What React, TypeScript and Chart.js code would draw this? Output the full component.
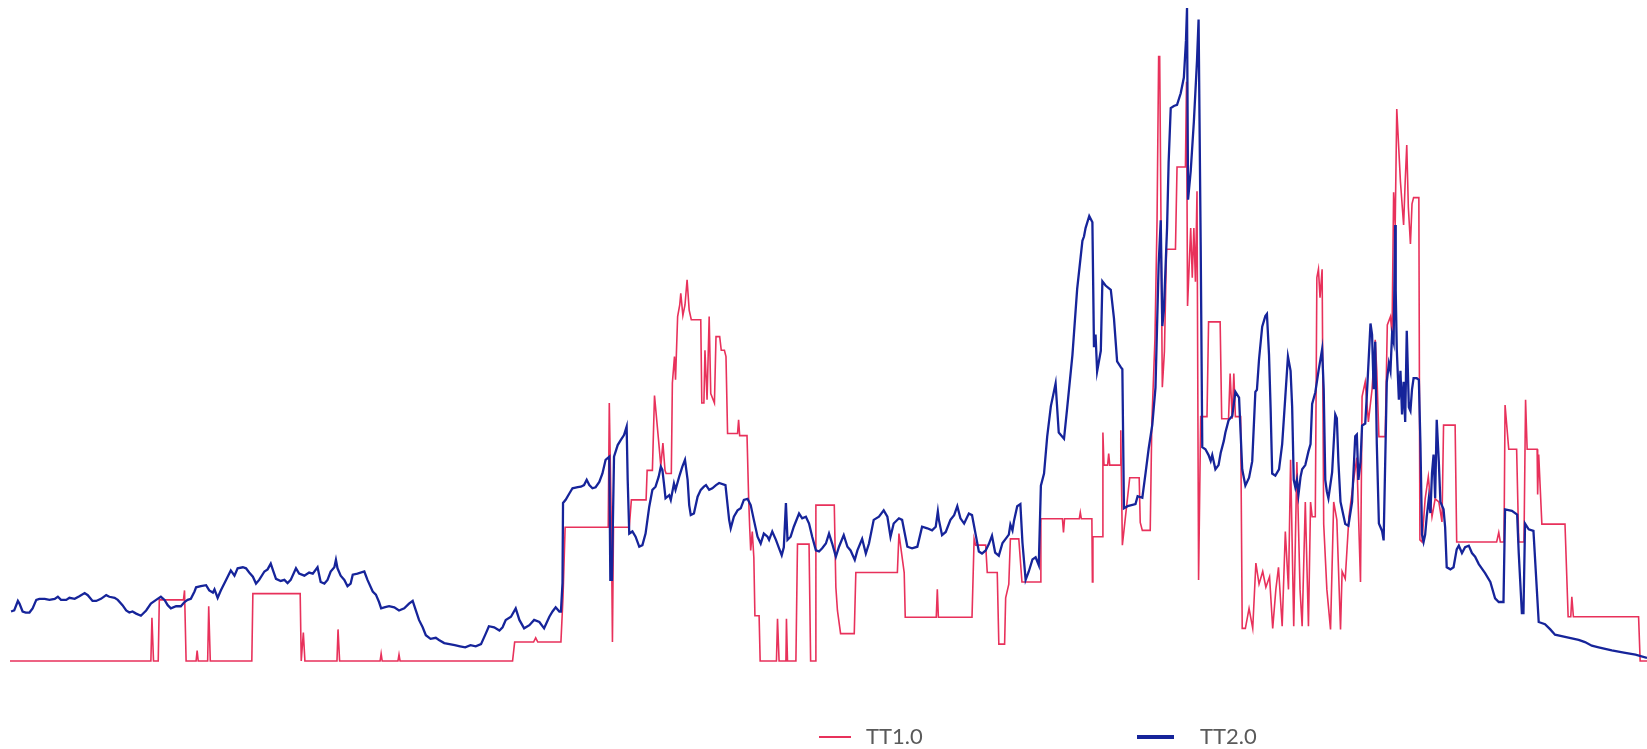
import React, { useEffect, useRef } from 'react';
import { Chart, registerables } from 'chart.js';

Chart.register(...registerables);

const seriesNames = ['TT1.0', 'TT2.0'];
const seriesColors = ['#e8315b', '#16249a'];
const timeRange = [0, 1557];
const valueRange = [0, 620];

// TT1.0 samples: [time, value]
const tt1Samples: [number, number][] = [
  [0,0],[134,0],[135,41],[136.5,0],[141,0],[142,58],[165,58],[166,67],[167.5,0],[177,0],[178,10],[179,0],
  [188,0],[189,52],[190.5,0],[230,0],[231,64],[276,64],[277,0],[279,27],[280.5,0],[311,0],[312,30],[313.5,0],
  [352,0],[353,7],[354,0],[369,0],[370,6],[371,0],[478,0],[480,18],[498,18],[500,22],[502,18],[524,18],
  [526,61],[528,127],[569,127],[570,245],[572,127],[573,18],[574,127],[589,127],[591,153],[605,153],[606,181],
  [611,181],[613,252],[617,208],[619,185],[621,207],[623,181],[624,178],[629,178],[630,264],[632,289],[633,267],
  [635,327],[637,338],[638,349],[640,328],[642,338],[644,362],[646,333],[648,324],[657,324],[658,245],[660,245],
  [661,295],[663,248],[665,327],[666.5,254],[670,245],[671.5,308],[675,308],[676.5,295],[679.5,295],[681,289],
  [682.5,216],[692,216],[693,229],[694,214],[701,214],[702.5,156],[703.5,128],[704.5,105],[706,123],[707.5,98],
  [708.5,43],[712.5,43],[713.5,0],[729,0],[730,40],[731.5,0],[738,0],[738.5,40],[739.5,0],[747.5,0],[749,111],
  [760,111],[761.5,0],[766,0],[766.5,148],[784,148],[785.5,70],[787,48],[790,26],[803,26],[804.5,84],[844,84],
  [845.5,121],[850.5,84],[851.5,41.5],[881,41.5],[882,68],[883,41.5],[915,41.5],[917,116],[918.5,110],[928,110],
  [929.5,84],[939,84],[940.5,16],[946,16],[947,60],[950,73],[951.5,116],[959.5,116],[962.5,75],[980,75],
  [980.5,135],[1001,135],[1002,122],[1003,135],[1017,135],[1018,141],[1019,135],[1029,135],[1029.5,75],
  [1030,118],[1039,118],[1039.5,217],[1040.5,186],[1044,186],[1045,197],[1046,186],[1056,186],[1056.5,219],
  [1058,110],[1065,174],[1074,174],[1075,131.5],[1077,124],[1084.5,124],[1086,225],[1089,306],[1091,419],
  [1092.5,574],[1093.5,574],[1096,260],[1098,294],[1100,391],[1108.5,391],[1110,469],[1118,469],[1119,550],
  [1120,337],[1123,411],[1124.5,364],[1126,411],[1127.5,360],[1129,446],[1130.5,77],[1132.5,232],[1138.5,232],
  [1140,322],[1151,322],[1152.5,230],[1159,230],[1160.5,273],[1162.5,230],[1164,273],[1165.5,232],[1170.5,232],
  [1172,31],[1175,31],[1178.5,50],[1182,31],[1185,93],[1188,73],[1191.5,85],[1194.5,70],[1198,80],[1201,31],
  [1204,68],[1206.5,89],[1210,33],[1213,123],[1216,68],[1218,191],[1221,33],[1224,189],[1227,68],[1229,33],
  [1232,151],[1235,33],[1237,151],[1238.5,137],[1241.5,137],[1243,364],[1244.5,372],[1246,345],[1248,372],
  [1249.5,130],[1252.5,68],[1256,30],[1259,151],[1262,134],[1265.5,30],[1267,85],[1270,78],[1273.5,137],
  [1278,172],[1281,193],[1284.5,75],[1286,251],[1289,265],[1292,227],[1295.5,258],[1298.5,305],[1300,275],
  [1302,213],[1308,213],[1310,319],[1313,327],[1314.5,310],[1316,445],[1317.5,414],[1319,524],[1322.5,455],
  [1325.5,414],[1327,455],[1328.5,490],[1330,431],[1332,396],[1333.5,434],[1335,440],[1340,440],[1341,115],
  [1343,113],[1346,154],[1349,175],[1352.5,137],[1355.5,154],[1359,151],[1362,132],[1363.5,224],[1374.5,224],
  [1376,113],[1414,113],[1416,122],[1417.5,113],[1421,113],[1422,243],[1425.5,201],[1433,201],[1435,113],
  [1440,113],[1441.5,248],[1443,201],[1452.5,201],[1453,158],[1454,196],[1457,130],[1479,130],[1482,42],
  [1484.5,42],[1485.5,61],[1487,42],[1549,42],[1550.5,0],[1557,0]
];

// TT2.0 samples: [time, value]
const tt2Samples: [number, number][] = [
  [1,47],[4,48],[7.5,57],[9,54.5],[12,47],[15,46],[18.5,46],[21.5,50],[25,58],[28,59],[33,59],[37.5,58],
  [42.5,59],[45.5,61],[48.5,58],[53.5,58],[56.5,60],[61.5,59],[66,61.5],[71,64.5],[74,62.5],[78.5,57],[82,57],
  [86.5,59],[91.5,62.5],[94.5,61],[99.5,60],[102.5,58],[107,53],[110.5,48],[113.5,46],[116.5,47],[120,45],
  [124.5,43],[129.5,48],[134,54.5],[139,58],[143.5,61],[147,58],[150,53],[153,50],[158,52],[162.5,52],[166,56],
  [169,58],[172,59],[175.5,66],[177,70],[181.5,71],[186.5,72],[189.5,67],[193,65],[194.5,68],[197.5,60],
  [200.5,67],[205.5,77],[210,86],[213.5,81],[216.5,88],[221.5,89],[224.5,88],[227.5,84],[231,80],[234,73.5],
  [237,77],[242,85],[245,87],[248,92.5],[250.5,85],[253,78],[257.5,76],[261,77],[264,74],[267,77],[272,88],
  [275,83],[280,81],[284.5,84],[288,83],[292.5,89],[295.5,75],[299,73.5],[302,77],[305,85],[308.5,89],[310,96],
  [311.5,88],[314.5,81],[318,77],[321,71],[324,73.5],[326,82],[330.5,83],[337,85],[340,77],[345,66],[348,63],
  [351,56],[353,50],[356,51],[360.5,52],[365.5,51],[370,48],[375,50],[379.5,54.5],[383,57],[386,48],[389,39],
  [392.5,32],[395.5,24.5],[400,21],[405,22],[408,20],[413,17],[418,16],[423,15],[428,14],[433,13],[438,15],
  [443,14],[448,16],[452.5,26],[455.5,33],[460.5,32],[465.5,29],[468.5,32],[471.5,39],[476.5,42],[481,50],
  [484.5,39],[489,31],[494,34],[498.5,39],[503.5,37],[508,31],[513,42],[516,47],[519,51],[522.5,47],[524,47],
  [525.5,74],[526,150],[528.5,153],[532,159],[535,164],[540,165],[543,165.5],[546,167],[548.5,172],[551,167],
  [554,164],[557,165],[560.5,170],[563.5,178],[566.5,191],[570,194],[571,77],[572.5,77],[574.5,194],[578,205],
  [581,210],[584,214.5],[586.5,222.5],[587.5,172],[589,121],[592,123],[595,118],[598.5,108.5],[601.5,110],
  [604.5,121],[608,146.5],[611,162.5],[614,165.5],[617,175],[619,184.5],[620.5,181.5],[622,168.5],[623.5,154.5],
  [627,157.5],[628.5,153],[631.5,168.5],[633,162.5],[636.5,175],[639.5,184.5],[642,191],[644.5,172],[646,148],
  [647.5,138.5],[650.5,140],[654,156],[657,162.5],[660,165.5],[662,167],[665,162.5],[668,164],[671.5,167],
  [674.5,169],[680.5,167],[684,134],[685.5,126],[688.5,137],[692,143],[695,145],[698,153],[701.5,154],
  [704.5,148],[707.5,134],[711,118],[714,111.5],[717,121],[720.5,118],[722,115],[725,123],[728.5,115],
  [731.5,107],[734,100.5],[736,108],[738,150],[739.5,115],[742.5,118],[745.5,127.5],[750.5,140],[753.5,135.5],
  [757,137],[760,130.5],[763,118],[766.5,105],[769.5,104],[772.5,107],[776,111.5],[779,121],[782,111.5],
  [785.5,99],[788.5,108.5],[793,119.5],[796.5,108.5],[799.5,105],[803.5,96],[806,105],[810.5,116],[814,102],
  [817,111.5],[821.5,134],[826.5,137],[831,143],[834.5,137],[837.5,118],[840.5,130.5],[845.5,135.5],
  [848.5,134],[853.5,108.5],[858,107],[863,108.5],[867.5,127.5],[872.5,126],[877,124],[880.5,127.5],[882.5,142],
  [883.5,134],[886.5,119.5],[890,122.5],[894.5,134],[898,138.5],[901,147],[904,135.5],[907.5,130.5],[912,140],
  [915,138.5],[918.5,120],[921.5,104],[924.5,102],[928,105],[931,111],[934,119],[937,103],[940.5,100],[944,112],
  [947,116],[950,120],[951.5,129.5],[953.5,124],[955,133.5],[958,147],[961,149],[963,112],[966,77],[969,85],
  [972.5,96.5],[975.5,98.5],[978.5,91],[980.5,166.5],[983.5,178],[986.5,213],[990,242],[994.5,263.5],
  [997.5,217],[1002.5,211],[1005.5,240],[1010.5,290.5],[1015,353],[1020,399],[1021.5,403],[1023,411],
  [1026.5,422.5],[1029.5,416.5],[1031,298],[1032.5,310],[1034,275],[1037.5,294.5],[1039,360.5],[1042,356.5],
  [1047,352.5],[1050,325.5],[1053,284.5],[1056.5,279],[1058,277],[1059.5,145],[1063,147],[1070.5,149],
  [1072.5,156.5],[1077,155],[1080,178],[1083,201.5],[1086.5,224.5],[1089.5,259.5],[1092.5,376],[1094.5,418.5],
  [1096,318],[1097.5,333],[1100.5,411],[1102,473],[1104,525],[1107,527],[1110,528],[1113.5,539],[1116.5,554],
  [1118.5,589],[1119.5,620],[1120.5,438],[1123,465],[1126,512],[1129,570],[1130.5,609],[1132.5,395],[1134,203],
  [1137,201],[1140,195.5],[1142,190],[1143.5,195.5],[1146.5,182],[1149.5,186],[1151.5,197.5],[1154.5,209],
  [1156,217],[1159,228.5],[1162.5,232.5],[1165.5,255.5],[1169,250],[1172,182],[1175,166.5],[1178.5,174],
  [1181.5,189.5],[1184.5,255.5],[1186,257.5],[1188,286.5],[1191,317.5],[1194,327.5],[1195.5,329.5],
  [1197.5,290.5],[1199,240],[1200.5,178],[1203.5,176],[1207,182],[1210,206],[1213,251],[1215.5,289],
  [1218,275.5],[1219.5,241],[1221,172],[1222.5,165],[1224,172],[1225.5,158],[1227.5,175],[1229,182],[1232,186],
  [1235,199],[1237,206],[1238.5,244],[1241.5,255],[1244.5,275],[1248,296],[1249.5,258],[1251,172],[1252.5,161],
  [1254,154.5],[1257.5,179],[1260.5,234],[1262,230.5],[1263.5,189],[1265.5,151],[1267,144],[1270,130],
  [1273,128.5],[1276.5,151],[1279.5,213.5],[1281,215],[1282.5,172],[1284.5,189],[1286,223.5],[1289,225.5],
  [1290.5,251.5],[1294,320.5],[1295.5,310],[1297,258],[1298.5,303],[1300,206.5],[1302,130.5],[1305,123.5],
  [1306.5,114.5],[1308,189],[1309.5,265],[1311.5,282.5],[1313,275.5],[1314.5,310],[1316,303],[1317.5,414],
  [1318,351.5],[1319,296],[1321,248],[1322.5,275.5],[1324,234],[1325.5,265],[1327,227],[1328.5,313.5],
  [1330.5,241],[1332,237.5],[1333.5,258],[1335,268.5],[1338,268.5],[1340,267],[1341.5,206.5],[1343,120],
  [1344.5,113],[1346,120],[1347.5,137],[1349.5,154.5],[1351,140.5],[1352.5,178.5],[1354,196],[1355.5,154.5],
  [1357,229],[1359,189],[1360.5,151],[1363.5,144],[1365,127],[1366.5,89],[1370,87],[1373,89],[1376,106],
  [1378,109.5],[1381,102.5],[1384,108],[1387.5,109.5],[1390.5,102.5],[1393.5,99],[1397,92],[1403,83.5],
  [1408,75],[1412.5,59.5],[1416,56],[1420.5,56],[1422,144],[1428.5,142.5],[1433.5,139],[1435,102.5],
  [1438,45.5],[1439.5,45.5],[1441,130.5],[1444.5,125],[1449,123.5],[1454,37],[1460,35],[1465,30],[1469.5,25],
  [1479,23],[1492,20],[1498,18],[1504.5,14.5],[1511,13],[1523.5,10],[1535,8],[1546,6],[1557,3]
];

const legendFont = 'Lato, "Open Sans", "DejaVu Sans", sans-serif';

export default function App() {
  const canvasRef = useRef<HTMLCanvasElement | null>(null);

  useEffect(() => {
    if (!canvasRef.current) return;
    const chart = new Chart(canvasRef.current, {
      type: 'line',
      data: {
        datasets: [
          {
            label: seriesNames[0],
            data: tt1Samples.map(([x, y]) => ({ x, y })),
            borderColor: seriesColors[0],
            backgroundColor: seriesColors[0],
            borderWidth: 1.6,
            pointRadius: 0,
            tension: 0,
            fill: false,
            clip: false as any,
            order: 1,
          },
          {
            label: seriesNames[1],
            data: tt2Samples.map(([x, y]) => ({ x, y })),
            borderColor: seriesColors[1],
            backgroundColor: seriesColors[1],
            borderWidth: 2.3,
            pointRadius: 0,
            tension: 0,
            fill: false,
            clip: false as any,
            order: 0,
          },
        ],
      },
      options: {
        responsive: false,
        animation: false,
        events: [],
        layout: { padding: { left: 10, right: 0, top: 8, bottom: 88 } },
        scales: {
          x: { type: 'linear', min: timeRange[0], max: timeRange[1], display: false },
          y: { type: 'linear', min: valueRange[0], max: valueRange[1], display: false },
        },
        plugins: {
          legend: { display: false },
          tooltip: { enabled: false },
        },
      },
    });
    return () => chart.destroy();
  }, []);

  const textStyle: React.CSSProperties = {
    position: 'absolute',
    top: 725,
    fontFamily: legendFont,
    fontSize: 22,
    lineHeight: '22px',
    color: '#5a5a5a',
    whiteSpace: 'nowrap',
  };

  return (
    <div style={{ position: 'absolute', left: 0, top: 0, width: 1647, height: 749, overflow: 'hidden', background: '#ffffff' }}>
      <canvas ref={canvasRef} width={1647} height={749} style={{ position: 'absolute', left: 0, top: 0 }} />
      <div style={{ position: 'absolute', left: 819, top: 736, width: 32, height: 2, background: seriesColors[0] }} />
      <div style={{ ...textStyle, left: 866 }}>{seriesNames[0]}</div>
      <div style={{ position: 'absolute', left: 1137, top: 735, width: 37, height: 3.5, background: seriesColors[1] }} />
      <div style={{ ...textStyle, left: 1200 }}>{seriesNames[1]}</div>
    </div>
  );
}
